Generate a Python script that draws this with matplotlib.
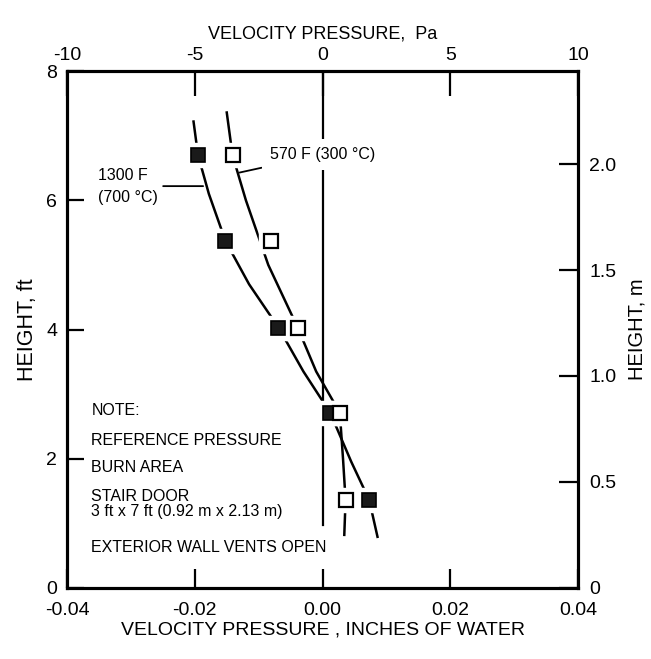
import numpy as np
import matplotlib
import matplotlib.pyplot as plt
matplotlib.use('Agg')

plt.rcParams['font.family'] = ['Liberation Sans', 'DejaVu Sans']
plt.rcParams['axes.unicode_minus'] = False

# measured points (inches of water, height ft)
hot_x = [-0.0195, -0.0152, -0.0069, 0.0012, 0.0073]      # 1300 F
hot_y = [6.70, 5.37, 4.03, 2.71, 1.36]
warm_x = [-0.0141, -0.0080, -0.0039, 0.0027, 0.0036]    # 570 F
warm_y = [6.70, 5.37, 4.03, 2.71, 1.36]

# hand drawn fit curves
hot_curve_x = [-0.0202, -0.0195, -0.0178, -0.0152, -0.0115, -0.0069, -0.0030, 0.0012, 0.0045, 0.0073, 0.0086]
hot_curve_y = [7.22, 6.70, 6.10, 5.37, 4.70, 4.03, 3.35, 2.71, 1.95, 1.36, 0.79]
warm_curve_x = [-0.0150, -0.0141, -0.0120, -0.0085, -0.0039, -0.0010, 0.0027, 0.0032, 0.0036, 0.0034]
warm_curve_y = [7.36, 6.70, 6.00, 5.00, 4.03, 3.35, 2.71, 2.00, 1.36, 0.82]

note_lines = ['NOTE:', 'REFERENCE PRESSURE', 'BURN AREA',
              'STAIR DOOR\n3 ft x 7 ft (0.92 m x 2.13 m)', 'EXTERIOR WALL VENTS OPEN']
note_y = [2.75, 2.28, 1.87, 1.30, 0.63]

fig = plt.figure(figsize=(6.51, 6.59), dpi=100)
ax = fig.add_axes([0.103, 0.108, 0.785, 0.784])

ax.set_xlim(-0.04, 0.04)
ax.set_ylim(0, 8)

# reference line at zero
ax.plot([0, 0], [0.98, 8], color='black', lw=1.6, zorder=1)

ax.plot(hot_curve_x, hot_curve_y, color='black', lw=1.8, zorder=2)
ax.plot(warm_curve_x, warm_curve_y, color='black', lw=1.8, zorder=2)

# white halos break the curves around the markers
for xs, ys in [(hot_x, hot_y), (warm_x, warm_y)]:
    ax.plot(xs, ys, ls='none', marker='s', ms=17, mfc='white', mec='white', zorder=3)
ax.plot(hot_x, hot_y, ls='none', marker='s', ms=10, mfc='#1a1a1a', mec='black', mew=1.2, zorder=4)
ax.plot(warm_x, warm_y, ls='none', marker='s', ms=10, mfc='white', mec='black', mew=1.6, zorder=4)

ax.annotate('570 F (300 °C)', xy=(-0.0130, 6.43), xytext=(-0.0083, 6.71),
            fontsize=11.5, va='center', ha='left',
            bbox=dict(boxstyle='square,pad=0.5', fc='white', ec='none'),
            arrowprops=dict(arrowstyle='-', color='black', lw=1.3, shrinkA=0, shrinkB=0))
ax.annotate('1300 F\n(700 °C)', xy=(-0.0187, 6.22), xytext=(-0.0352, 6.22),
            fontsize=11.5, va='center', ha='left', linespacing=1.6,
            arrowprops=dict(arrowstyle='-', color='black', lw=1.3, shrinkA=2, shrinkB=0))

for t, y in zip(note_lines, note_y):
    ax.text(-0.0362, y, t, fontsize=11.5, va='center', ha='left', linespacing=1.05)

ax.set_xticks([-0.04, -0.02, 0.00, 0.02, 0.04])
ax.set_xticklabels(['-0.04', '-0.02', '0.00', '0.02', '0.04'])
ax.set_yticks([0, 2, 4, 6, 8])
ax.tick_params(direction='in', length=14, width=1.6, labelsize=14, pad=7)
ax.tick_params(axis='x', pad=10)
ax.tick_params(axis='y', length=12)
ax.set_xlabel('VELOCITY PRESSURE , INCHES OF WATER', fontsize=14, labelpad=2)
ax.set_ylabel('HEIGHT, ft', fontsize=15.5, labelpad=6)
for s in ax.spines.values():
    s.set_linewidth(2.2)

top = ax.twiny()
top.set_xlim(-10, 10)
top.set_xticks([-10, -5, 0, 5, 10])
top.tick_params(direction='in', length=18, width=1.6, labelsize=14, pad=5)
top.set_xlabel('VELOCITY PRESSURE,  Pa', fontsize=13, labelpad=6)

right = ax.twinx()
right.set_ylim(0, 8 * 0.3048)
right.set_yticks([0, 0.5, 1.0, 1.5, 2.0])
right.set_yticklabels(['0', '0.5', '1.0', '1.5', '2.0'])
right.tick_params(direction='in', length=14, width=1.6, labelsize=14, pad=8)
right.set_ylabel('HEIGHT, m', fontsize=14.5, labelpad=8)
for a in (top, right):
    for s in a.spines.values():
        s.set_linewidth(2.2)

fig.savefig('out.png', dpi=100, facecolor='white')
